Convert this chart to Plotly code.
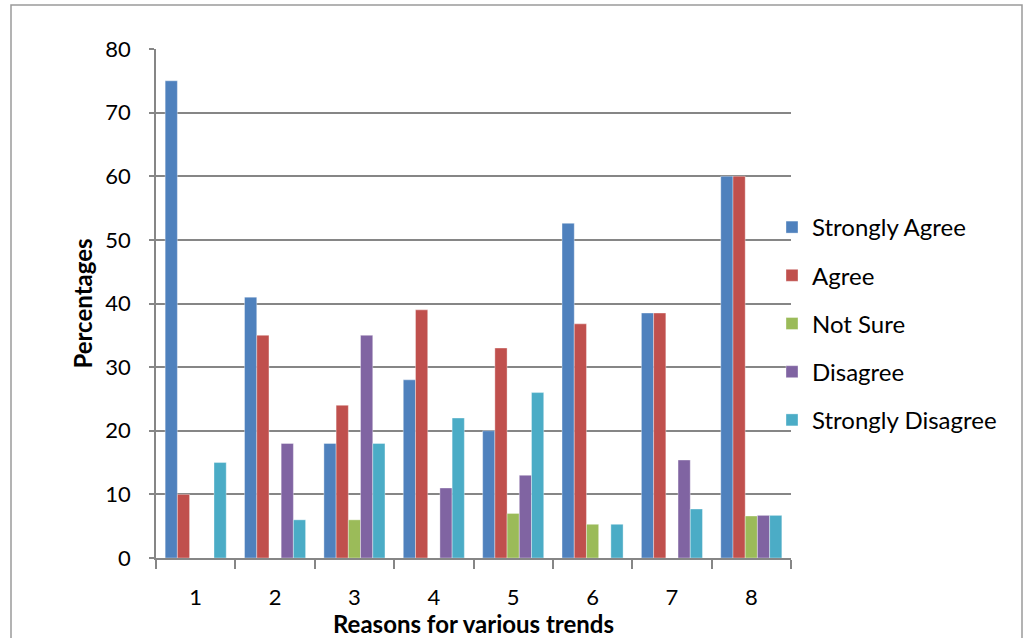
import plotly.graph_objects as go

categories = ["1", "2", "3", "4", "5", "6", "7", "8"]
strongly_agree = [75, 41, 18, 28, 20, 52.6, 38.5, 60]
agree = [10, 35, 24, 39, 33, 36.8, 38.5, 60]
not_sure = [0, 0, 6, 0, 7, 5.3, 0, 6.6]
disagree = [0, 18, 35, 11, 13, 0, 15.4, 6.7]
strongly_disagree = [15, 6, 18, 22, 26, 5.3, 7.7, 6.7]
series_names = ["Strongly Agree", "Agree", "Not Sure", "Disagree", "Strongly Disagree"]
colors = ["#4F81BD", "#C0504D", "#9BBB59", "#8064A2", "#4BACC6"]
y_ticks = [0, 10, 20, 30, 40, 50, 60, 70, 80]

FONT = "Lato, Calibri, sans-serif"
GRID = "#868686"
FS = 22
FL = 24
FT = 24

fig = go.Figure()
for i, (name, vals) in enumerate(zip(series_names,
                                     [strongly_agree, agree, not_sure, disagree, strongly_disagree])):
    fig.add_trace(go.Bar(
        x=categories, y=vals, name=name,
        marker=dict(color=colors[i], line=dict(color="rgba(255,255,255,0.6)", width=0.6)),
        legendgroup=name,
    ))

W, H = 1025, 638
L, R, T, B = 156, 791, 49, 558
pw, ph = R - L, B - T

def px_x(p):
    return (p - L) / pw

def px_y(p):
    return (B - p) / ph

fig.update_layout(
    width=W, height=H,
    margin=dict(l=L, r=W - R, t=T, b=H - B),
    paper_bgcolor="white", plot_bgcolor="white",
    barmode="group", bargap=1.5 / 6.5, bargroupgap=0,
    font=dict(family=FONT, size=FS, color="black"),
    showlegend=True,
    legend=dict(
        x=px_x(772), xanchor="left", y=px_y(323.5), yanchor="middle",
        font=dict(family=FONT, size=FL, color="black"),
        tracegroupgap=14, bgcolor="rgba(0,0,0,0)",
    ),
    xaxis=dict(
        type="category",
        showline=True, linecolor=GRID, linewidth=1.5,
        ticks="outside", tickson="boundaries", ticklen=9, tickcolor=GRID, tickwidth=1.5,
        ticklabelstandoff=19,
        showgrid=False,
        tickfont=dict(family=FONT, size=FS, color="black"),
        title=dict(text="<b>Reasons for various trends</b>", standoff=0,
                   font=dict(family=FONT, size=FT, color="black")),
    ),
    yaxis=dict(
        range=[0, 80], tickvals=y_ticks,
        showline=True, linecolor=GRID, linewidth=1.5,
        ticks="outside", ticklen=5, tickcolor=GRID, tickwidth=1.5,
        ticklabelstandoff=14,
        showgrid=True, gridcolor=GRID, gridwidth=1.5,
        zeroline=False,
        tickfont=dict(family=FONT, size=FS, color="black"),
        title=dict(text="<b>Percentages</b>", standoff=6,
                   font=dict(family=FONT, size=FT, color="black")),
    ),
    shapes=[dict(
        type="rect", xref="paper", yref="paper",
        x0=px_x(11), x1=px_x(1022), y0=px_y(650), y1=px_y(5),
        line=dict(color="#9a9a9a", width=1.5), fillcolor="rgba(0,0,0,0)",
        layer="below",
    )],
)

fig.write_html("out.html", config={"displayModeBar": False},
               post_script="document.body.style.margin='0';document.body.style.overflow='hidden';")
